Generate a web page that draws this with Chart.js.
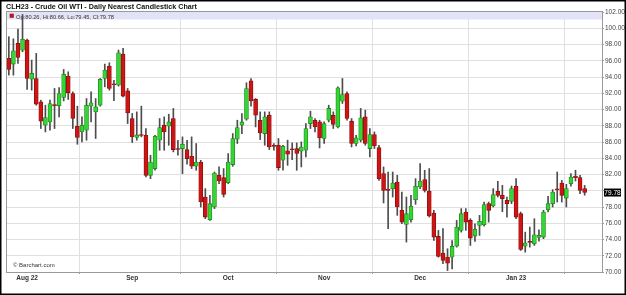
<!DOCTYPE html>
<html>
<head>
<meta charset="utf-8">
<script src="https://cdn.jsdelivr.net/npm/chart.js@4"></script>
<style>
  html, body { margin: 0; padding: 0; background: #fff; }
  #wrap { width: 626px; height: 295px; position: relative; }
</style>
</head>
<body>
<div id="wrap"><canvas id="chart" width="626" height="295"></canvas></div>
<script>
// Daily OHLC, late Jul 2022 .. 25 Jan 2023 (one entry per trading day)
const opens = [
  96.29, 95.59, 98.14, 97.31, 98.55, 93.74, 93.82, 90.94, 88.07, 88.47,
  90.62, 90.45, 91.48, 94.11, 91.97, 87.94, 87.24, 87.45, 90.41, 89.71,
  90.53, 93.82, 95.34, 93.10, 93.00, 96.82, 92.30, 88.89, 86.55, 86.85,
  86.83, 81.90, 82.73, 86.22, 88.07, 87.94, 88.89, 85.12, 85.19, 85.07,
  84.24, 83.01, 83.54, 79.23, 76.44, 78.00, 81.90, 81.61, 81.00, 83.22,
  86.34, 88.07, 88.80, 93.53, 91.24, 88.68, 87.04, 89.30, 85.50, 85.60,
  83.75, 84.91, 85.09, 85.19, 84.86, 84.98, 88.27, 88.68, 88.47, 86.43,
  88.68, 89.30, 87.86, 91.03, 91.97, 88.56, 85.81, 86.22, 89.09, 85.19,
  86.92, 85.31, 82.11, 80.17, 80.26, 81.08, 77.59, 75.86, 76.44, 78.90,
  80.46, 81.37, 79.97, 77.25, 74.38, 72.32, 71.83, 71.83, 73.18, 75.12,
  77.39, 76.35, 74.42, 75.74, 75.82, 78.41, 78.12, 79.93, 79.44, 78.82,
  78.70, 80.58, 77.18, 73.18, 73.76, 73.47, 74.25, 74.30, 77.67, 78.41,
  80.17, 80.95, 79.10, 80.88, 81.78, 81.62, 80.26
];
const highs = [
  98.96, 98.70, 99.90, 101.70, 98.67, 96.08, 96.90, 91.15, 90.53, 91.15,
  92.59, 92.71, 94.93, 94.64, 92.17, 90.41, 89.09, 91.35, 92.17, 91.35,
  93.82, 95.59, 95.75, 93.60, 97.31, 97.52, 92.59, 89.51, 89.71, 90.41,
  87.66, 84.37, 86.83, 88.89, 89.09, 89.42, 90.13, 86.22, 86.63, 86.22,
  86.63, 85.81, 83.75, 80.26, 79.44, 82.31, 82.93, 82.73, 84.58, 87.04,
  88.68, 89.51, 93.29, 93.82, 91.35, 89.71, 89.71, 89.71, 85.81, 86.43,
  85.60, 86.22, 85.89, 85.89, 86.01, 88.27, 89.79, 88.89, 88.68, 88.47,
  90.53, 89.71, 92.79, 93.82, 92.17, 88.89, 86.83, 90.13, 89.92, 87.66,
  87.24, 85.60, 82.93, 82.31, 82.31, 81.90, 79.84, 79.23, 79.44, 81.49,
  83.34, 82.52, 82.73, 77.59, 75.12, 75.33, 72.86, 73.88, 76.35, 77.80,
  77.80, 76.56, 75.94, 76.97, 78.61, 78.61, 80.26, 81.16, 80.67, 79.23,
  80.58, 81.49, 77.38, 74.91, 75.53, 76.56, 75.20, 77.59, 79.31, 80.14,
  82.31, 81.28, 80.79, 82.11, 82.52, 81.90, 80.66
];
const lows = [
  94.23, 94.23, 95.67, 97.10, 92.47, 92.38, 90.53, 87.66, 87.24, 87.45,
  87.66, 89.09, 91.06, 91.24, 87.66, 85.72, 86.01, 86.22, 88.47, 86.43,
  90.41, 92.79, 92.38, 91.10, 92.88, 91.56, 88.27, 85.93, 86.22, 86.63,
  81.69, 81.49, 82.52, 84.98, 84.98, 85.60, 84.78, 84.37, 82.11, 83.26,
  82.73, 82.52, 78.00, 76.56, 76.35, 77.80, 80.88, 79.23, 80.88, 83.01,
  85.81, 87.04, 88.68, 90.41, 87.86, 86.30, 85.60, 85.07, 84.98, 82.52,
  82.52, 83.13, 83.84, 82.52, 82.93, 84.16, 87.66, 87.24, 85.27, 85.81,
  88.47, 87.66, 87.73, 90.74, 88.68, 85.39, 85.52, 86.01, 85.60, 84.16,
  85.19, 81.28, 78.50, 75.33, 79.23, 76.97, 75.94, 73.68, 76.14, 78.33,
  80.26, 79.84, 76.76, 73.88, 71.83, 71.01, 70.18, 70.39, 73.06, 74.91,
  75.12, 73.27, 73.76, 74.50, 75.65, 76.14, 78.00, 79.23, 77.43, 76.76,
  78.41, 76.56, 72.65, 72.44, 73.06, 73.27, 73.80, 74.10, 77.38, 78.00,
  78.61, 78.61, 78.00, 80.55, 81.20, 79.64, 79.45
];
const closes = [
  94.93, 97.23, 96.41, 98.63, 93.82, 94.44, 90.66, 88.56, 89.02, 90.74,
  90.45, 91.97, 94.35, 92.05, 88.90, 86.55, 88.07, 90.53, 90.82, 90.33,
  93.70, 94.85, 92.59, 93.05, 96.98, 91.64, 89.58, 86.63, 86.87, 86.80,
  81.90, 83.54, 86.71, 87.78, 87.24, 88.47, 85.07, 85.08, 85.72, 83.96,
  83.01, 83.54, 78.61, 76.76, 78.41, 82.18, 81.20, 79.56, 83.54, 86.43,
  87.78, 88.47, 92.59, 91.06, 89.30, 87.12, 89.09, 85.40, 85.46, 82.85,
  85.48, 84.49, 85.05, 84.58, 85.39, 87.66, 89.09, 87.86, 86.51, 88.27,
  90.13, 88.15, 92.67, 91.85, 88.89, 85.81, 86.51, 88.97, 85.81, 86.92,
  85.52, 81.49, 80.05, 80.05, 80.95, 78.00, 76.14, 77.18, 78.08, 80.55,
  81.20, 80.05, 76.89, 74.29, 71.91, 71.42, 71.09, 73.15, 75.53, 77.18,
  76.14, 74.17, 75.25, 76.23, 78.29, 77.59, 79.52, 79.44, 79.03, 78.41,
  80.26, 76.76, 72.78, 73.60, 73.63, 74.58, 74.50, 77.38, 78.41, 79.84,
  80.10, 79.44, 80.26, 81.69, 81.62, 80.05, 79.78
];

// first trading day of each month (index into the arrays above) and its label
const monthTickIndex = [4, 27, 48, 69, 90, 111];
const monthTickLabels = ["Aug 22", "Sep", "Oct", "Nov", "Dec", "Jan 23"];

const FONT = "'Liberation Sans', Arial, sans-serif";
const UP_FILL = "#33d633";
const UP_EDGE = "#228a22";
const DOWN_FILL = "#cf1414";
const DOWN_EDGE = "#8a0e0e";

const last = closes.length - 1;
const isUp = opens.map((o, i) => closes[i] >= o);

// Candle pieces as floating bars: wick = [low, high], body = [open, close]
const wickData = lows.map((lo, i) => ({ x: i, y: [lo, highs[i]] }));
const bodyData = opens.map((o, i) => ({ x: i, y: [o, closes[i]] }));

// Extra drawing: header band, frame, last price tag, title
const decorations = {
  id: "decorations",
  beforeDatasetsDraw(chart) {
    const { ctx, chartArea: a } = chart;
    ctx.save();
    ctx.fillStyle = "rgba(224,226,246,0.95)";
    ctx.fillRect(a.left, a.top, a.right - a.left, 7.5);
    ctx.fillStyle = DOWN_FILL;
    ctx.fillRect(10, 14, 3.5, 3.5);
    ctx.strokeStyle = DOWN_EDGE;
    ctx.lineWidth = 0.6;
    ctx.strokeRect(10, 14, 3.5, 3.5);
    ctx.fillStyle = "#333";
    ctx.font = "6px " + FONT;
    ctx.textBaseline = "alphabetic";
    const legendText = "Op:" + opens[last].toFixed(2) + ", Hi:" + highs[last].toFixed(2) +
      ", Lo:" + lows[last].toFixed(2) + ", Cl:" + closes[last].toFixed(2);
    ctx.fillText(legendText, 16, 18.5, 98);
    ctx.restore();
  },
  afterDatasetsDraw(chart) {
    const { ctx, chartArea: a, scales } = chart;
    ctx.save();
    // plot frame
    ctx.strokeStyle = "#9a9a9a";
    ctx.lineWidth = 1;
    ctx.strokeRect(a.left - 0.5, a.top - 0.5, a.right - a.left + 1, a.bottom - a.top + 1);
    // source note
    ctx.fillStyle = "#333";
    ctx.font = "6px " + FONT;
    ctx.fillText("\u00a9 Barchart.com", 13, 267, 42);
    // last price tag on the axis
    const py = scales.y.getPixelForValue(closes[last]);
    ctx.fillStyle = "#000";
    ctx.fillRect(a.right + 2, py - 4, 17, 8);
    ctx.fillStyle = "#fff";
    ctx.font = "6.5px " + FONT;
    ctx.textAlign = "center";
    ctx.textBaseline = "middle";
    ctx.fillText(closes[last].toFixed(2), a.right + 10.5, py + 0.5);
    ctx.restore();
  },
  afterDraw(chart) {
    const { ctx, width, height } = chart;
    ctx.save();
    ctx.fillStyle = "#111";
    ctx.font = "bold 7.5px " + FONT;
    ctx.textBaseline = "alphabetic";
    ctx.fillText("CLH23 - Crude Oil WTI - Daily Nearest Candlestick Chart", 6, 8.5, 191);
    ctx.strokeStyle = "#000";
    ctx.lineWidth = 1.5;
    ctx.strokeRect(0.75, 0.75, width - 1.5, height - 1.5);
    ctx.restore();
  },
};

const ctx = document.getElementById("chart").getContext("2d");

new Chart(ctx, {
  type: "bar",
  data: {
    datasets: [
      {
        label: "wick",
        data: wickData,
        backgroundColor: "#4d4d4d",
        barThickness: 1,
        grouped: false,
        order: 2,
      },
      {
        label: "body",
        data: bodyData,
        backgroundColor: isUp.map((u) => (u ? UP_FILL : DOWN_FILL)),
        borderColor: isUp.map((u) => (u ? UP_EDGE : DOWN_EDGE)),
        borderWidth: 0.8,
        borderSkipped: false,
        barThickness: 4,
        minBarLength: 1,
        grouped: false,
        order: 1,
      },
    ],
  },
  options: {
    responsive: false,
    animation: false,
    layout: { padding: { left: 7, top: 12, right: 0, bottom: 0 } },
    plugins: {
      legend: { display: false },
      tooltip: { enabled: false },
    },
    scales: {
      x: {
        type: "linear",
        min: -0.4,
        max: 129.8,
        offset: false,
        afterBuildTicks: (scale) => {
          scale.ticks = monthTickIndex.map((v) => ({ value: v }));
        },
        afterFit: (scale) => {
          scale.height = 23;
        },
        ticks: {
          autoSkip: false,
          maxRotation: 0,
          padding: 0,
          color: "#333",
          font: { family: FONT, size: 6.5, weight: "bold" },
          callback: (v) => monthTickLabels[monthTickIndex.indexOf(v)],
        },
        grid: { color: "#e0e0e0", tickLength: 2, tickColor: "#999" },
        border: { color: "#9a9a9a" },
      },
      y: {
        position: "right",
        min: 70,
        max: 102,
        afterFit: (scale) => {
          scale.width = 24;
        },
        ticks: {
          stepSize: 2,
          padding: 1,
          color: "#444",
          font: { family: FONT, size: 6.5 },
          callback: (v) => (Math.abs(v - closes[last]) < 0.5 ? "" : v.toFixed(2)),
        },
        grid: { color: "#e0e0e0", tickLength: 2, tickColor: "#999" },
        border: { color: "#9a9a9a" },
      },
    },
  },
  plugins: [decorations],
});
</script>
</body>
</html>
